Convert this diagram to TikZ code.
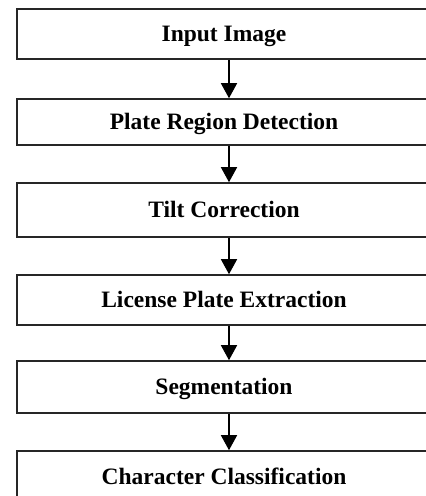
\documentclass[tikz,border=0pt]{standalone}
\usepackage{fontspec}
\setmainfont{Liberation Serif}
\usetikzlibrary{arrows.meta}

\begin{document}
\begin{tikzpicture}[
        x=1pt, y=-1pt,
        stage/.style={rectangle, draw=black!85, line width=1.6pt, minimum width=414pt, minimum height=50pt, inner sep=0pt, text height=15.6pt, text depth=0pt, align=center, font=\fontsize{23.5}{28}\selectfont\bfseries},
        flow/.style={-{Triangle[length=15pt, width=16pt]}, line width=1.6pt}
    ]
    \path[use as bounding box, clip] (0,0) rectangle (426,496);

    % Processing stages
    \node[stage] (input) at (224,34) {Input Image};
    \node[stage, minimum height=46pt] (plate) at (224,122) {Plate Region Detection};
    \node[stage, minimum height=54pt] (tilt) at (224,210) {Tilt Correction};
    \node[stage] (extract) at (224,300) {License Plate Extraction};
    \node[stage, minimum height=52pt] (segment) at (224,387) {Segmentation};
    \node[stage, minimum height=52pt] (classify) at (224,477) {Character Classification};

    % Flow between stages (arrows sit a little right of centre)
    \draw[flow] ([xshift=5pt]input.south) -- ([xshift=5pt]plate.north);
    \draw[flow] ([xshift=5pt]plate.south) -- ([xshift=5pt]tilt.north);
    \draw[flow] ([xshift=5pt]tilt.south) -- ([xshift=5pt]extract.north);
    \draw[flow] ([xshift=5pt]extract.south) -- ([xshift=5pt]segment.north);
    \draw[flow] ([xshift=5pt]segment.south) -- ([xshift=5pt]classify.north);

\end{tikzpicture}
\end{document}
